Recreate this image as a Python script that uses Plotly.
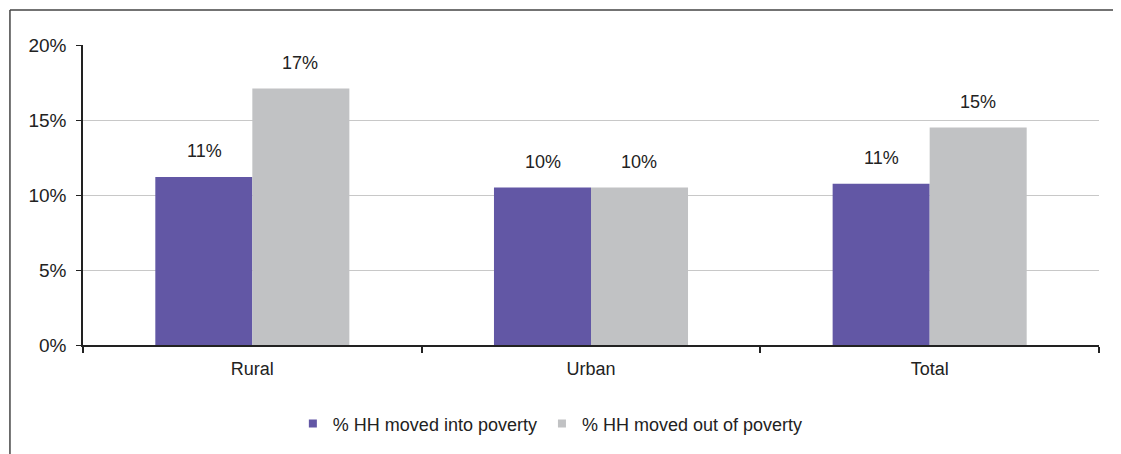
import plotly.graph_objects as go

categories = ["Rural", "Urban", "Total"]
into_poverty = [11.2, 10.5, 10.75]
out_of_poverty = [17.1, 10.5, 14.5]
into_labels = ["11%", "10%", "11%"]
out_labels = ["17%", "10%", "15%"]
series_names = ["% HH moved into poverty", "% HH moved out of poverty"]
y_ticks = [0, 5, 10, 15, 20]
y_tick_labels = ["0%", "5%", "10%", "15%", "20%"]

FONT = "Liberation Sans Narrow, Arial Narrow, Liberation Sans, Arial, sans-serif"
PURPLE = "#6257A5"
GRAY = "#C1C2C4"

fig = go.Figure()
fig.add_trace(go.Bar(x=categories, y=into_poverty, name=series_names[0], showlegend=False,
                     marker=dict(color=PURPLE, line=dict(width=0))))
fig.add_trace(go.Bar(x=categories, y=out_of_poverty, name=series_names[1], showlegend=False,
                     marker=dict(color=GRAY, line=dict(width=0))))
# legend entries with small square swatches
for name, col in zip(series_names, [PURPLE, GRAY]):
    fig.add_trace(go.Scatter(x=[None], y=[None], mode="markers", name=name,
                             marker=dict(symbol="square", size=8, color=col)))

for vals, labs, shift in [(into_poverty, into_labels, -48), (out_of_poverty, out_labels, 48)]:
    for c, v, t in zip(categories, vals, labs):
        fig.add_annotation(x=c, y=v, text=t, showarrow=False, xshift=shift, yshift=26,
                           font=dict(family=FONT, size=18, color="#222"))

# outer frame
fig.add_shape(type="line", xref="paper", yref="paper", x0=-0.0719, x1=-0.0719, y0=1.1167, y1=-0.45,
              line=dict(color="#444", width=1.5))
fig.add_shape(type="line", xref="paper", yref="paper", x0=-0.0719, x1=1.06, y0=1.1167, y1=1.1167,
              line=dict(color="#444", width=1.5))

fig.update_layout(
    width=1121, height=454,
    margin=dict(l=75, r=30, t=37, b=117),
    paper_bgcolor="white", plot_bgcolor="white",
    barmode="group", bargap=0.427, bargroupgap=0,
    font=dict(family=FONT, size=18, color="#222"),
    showlegend=True,
    legend=dict(orientation="h", x=0.46, xanchor="center", y=-0.263, yanchor="middle",
                font=dict(family=FONT, size=18, color="#222"), itemwidth=30,
                tracegroupgap=0),
    xaxis=dict(showline=True, linecolor="#222", linewidth=2, ticks="outside",
               tickson="boundaries", ticklen=6, tickcolor="#222", tickwidth=1.5,
               ticklabelstandoff=6,
               showgrid=False, tickfont=dict(family=FONT, size=18)),
    yaxis=dict(range=[0, 20], tickvals=y_ticks, ticktext=y_tick_labels,
               showline=True, linecolor="#222", linewidth=1.5, ticks="outside",
               ticklen=5, tickcolor="#222", showgrid=True, gridcolor="#C8C8C8",
               ticklabelstandoff=6,
               gridwidth=1, zeroline=False, tickfont=dict(family=FONT, size=19)),
)

fig.write_html("out.html")
